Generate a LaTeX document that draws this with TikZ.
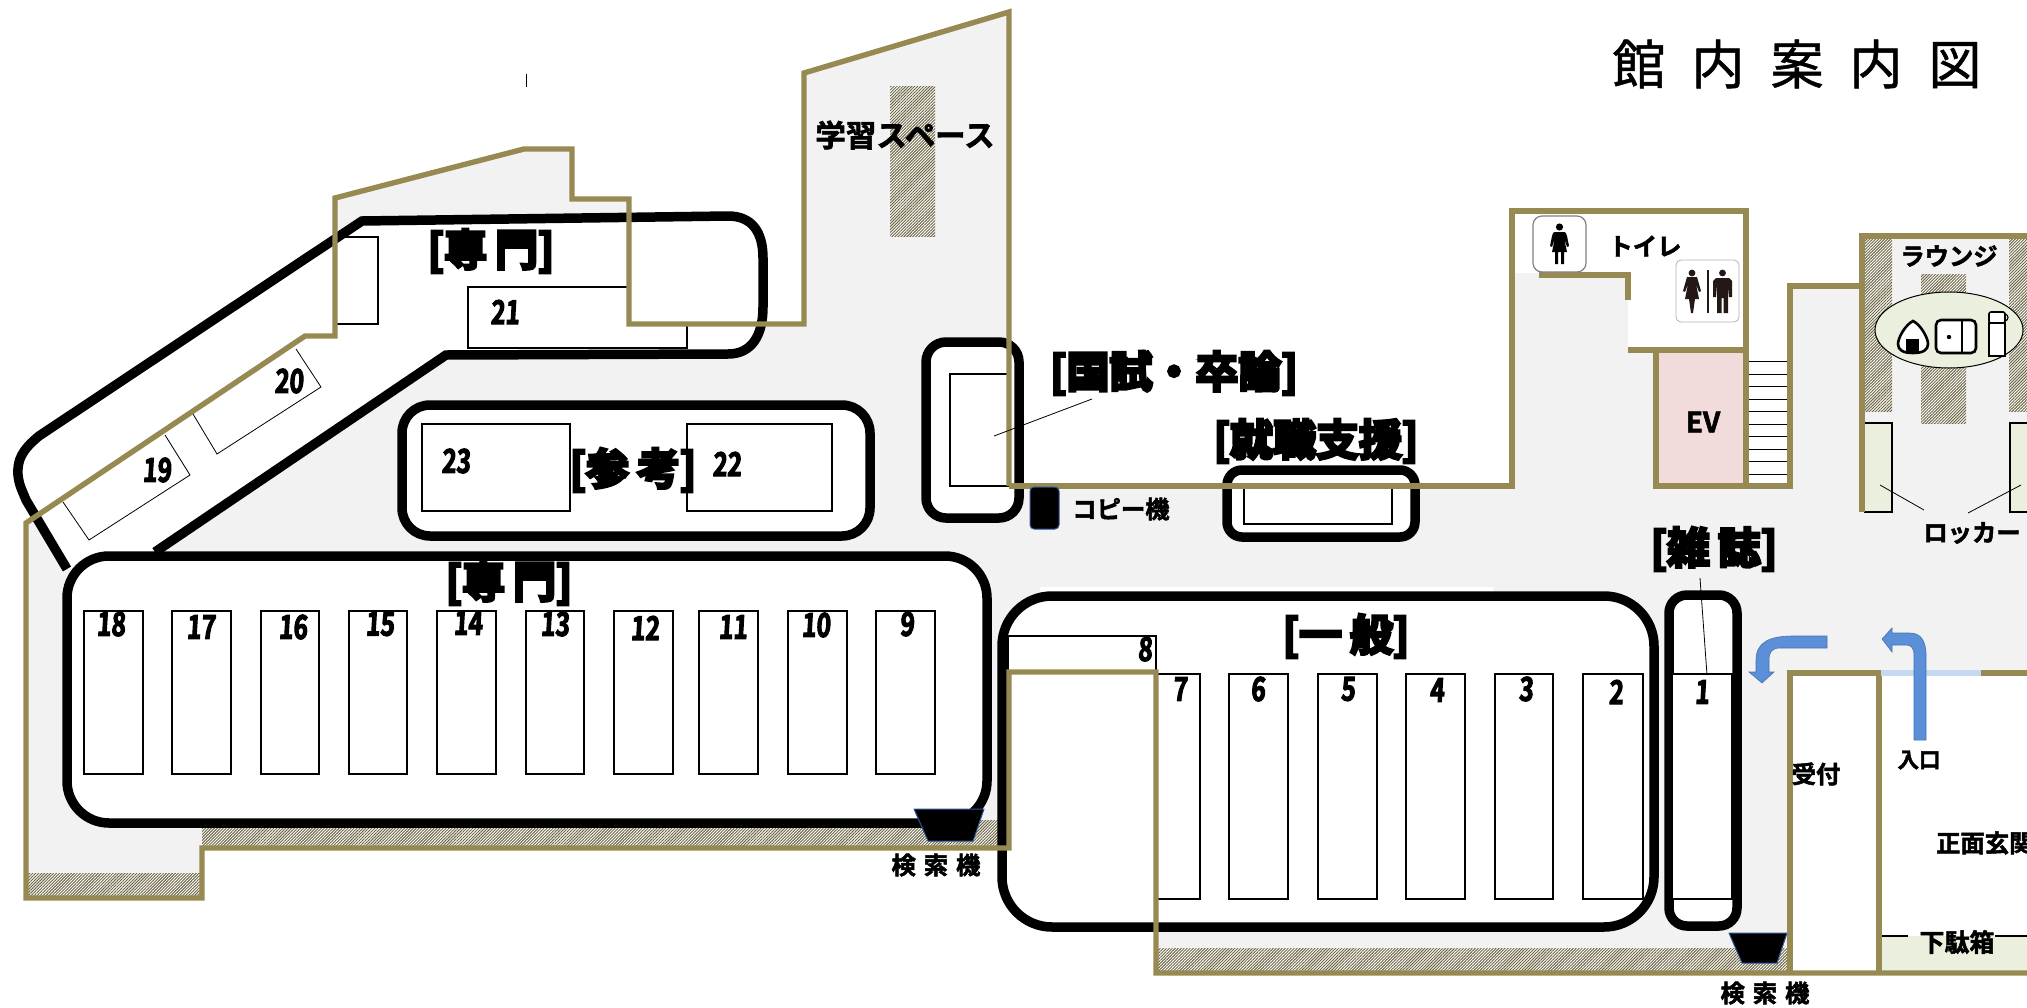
\documentclass[tikz,border=0pt]{standalone}
\usepackage{fontspec}
\usetikzlibrary{patterns.meta}
\newfontfamily\jpreg[FakeBold=0.9]{Noto Sans CJK JP}
\newfontfamily\jpbold[UprightFont={* Bold},FakeBold=2]{Noto Sans CJK JP}
\newfontfamily\jpheavy[UprightFont={* Bold},FakeBold=6.5]{Noto Sans CJK JP}
\newfontfamily\numfont[UprightFont={* Bold},FakeBold=3.2,FakeSlant=0.06,FakeStretch=0.74]{Noto Sans CJK JP}
\definecolor{wallc}{HTML}{968A52}
\definecolor{floorc}{HTML}{F2F2F2}
\definecolor{palegreen}{HTML}{EBEFDE}
\definecolor{evpink}{HTML}{F2DCDB}
\definecolor{arrowblue}{HTML}{5B8FD8}
\definecolor{doorblue}{HTML}{C6D9F1}
\definecolor{machblue}{HTML}{2F5597}
\definecolor{figc}{HTML}{231815}
\tikzset{
  wall/.style={draw=wallc,line width=5.4pt,line join=miter},
  band/.style={draw=black,fill=white,line width=9.5pt},
  shelf/.style={draw=black,fill=white,line width=1.8pt},
  shelfopen/.style={draw=black,line width=1.8pt},
  thinline/.style={draw=black,line width=0.8pt},
  hatchbox/.style={fill=white,postaction={pattern={Lines[angle=45,distance=2.1pt,line width=0.95pt]},pattern color=black!30!wallc!85!gray}},
  heavy/.style={font=\fontsize{43}{43}\jpheavy,inner sep=0pt},
  lab/.style={font=\fontsize{24.3}{24.3}\jpbold,inner sep=0pt},
  numlab/.style={font=\fontsize{33}{33}\numfont,inner sep=0pt},
  mach/.style={fill=black,draw=machblue,line width=1pt,line join=round},
  bluearrow/.style={fill=arrowblue,draw=arrowblue!80!black,line width=0.6pt},
}
\begin{document}
\begin{tikzpicture}[x=1pt,y=-1pt]
\clip (0,0) rectangle (2027,1007);
% floor
\fill[floorc] (335,198)--(524,149)--(572,149)--(572,199)--(629,199)--(629,324)--(804,324)--(804,73)--(1009,12)--(1009,486)--(1512,486)--(1512,273)--(1628,273)--(1628,350)--(1656,350)--(1656,486)--(1790,486)--(1790,286)--(1862,286)--(1862,236)--(2027,236)--(2027,673)--(1790,673)--(1790,973)--(1156,973)--(1156,672)--(1009,672)--(1009,848)--(202,848)--(202,898)--(26,898)--(26,523)--(305,336)--(335,336)--cycle;
% hatching
\path[hatchbox] (890,86) rectangle (935,236);
\path[hatchbox] (27,873) rectangle (200,896);
\path[hatchbox] (202,820) rectangle (1006,846);
\path[hatchbox] (1158,948) rectangle (1789,971);
\path[hatchbox] (1865,239) rectangle (1892,411);
\path[hatchbox] (1921,274) rectangle (1966,423);
\path[hatchbox] (2009,239) rectangle (2027,411);
% EV and stairs
\fill[evpink] (1656,350) rectangle (1745,486);
\fill[white] (1746,350) rectangle (1790,486);
\foreach \yy in {361,374,386,399,411,424,436,449,461,474}
  \draw[black,line width=0.9pt] (1747,\yy) -- (1788,\yy);
% white strip and bands
\fill[white] (1040,587) rectangle (1493,596);
\fill[white] (155,552)--(446,355)--(728,354) .. controls (752,354) and (763,335) .. (763,307) -- (763,258) .. controls (763,232) and (752,216) .. (728,216) -- (362,221) -- (39,436) .. controls (22,450) and (17,460) .. (18,475) .. controls (19,485) and (22,490) .. (26,500) -- (67,569) --cycle;
\draw[band,fill=none,line join=miter] (155,552)--(446,355)--(728,354) .. controls (752,354) and (763,335) .. (763,307) -- (763,258) .. controls (763,232) and (752,216) .. (728,216) -- (362,221) -- (39,436) .. controls (22,450) and (17,460) .. (18,475) .. controls (19,485) and (22,490) .. (26,500) -- (67,569);
\draw[band,rounded corners=42pt] (67,556) rectangle (987,823);
\draw[band,rounded corners=50pt] (1002,596) rectangle (1654,927);
\draw[band,rounded corners=18pt] (1669,595) rectangle (1737,926);
\draw[band,rounded corners=28pt] (402,405) rectangle (870,536);
\draw[band,rounded corners=20pt] (926,342) rectangle (1019,518);
\draw[band,rounded corners=15pt] (1227,470) rectangle (1415,537);
% shelves
\foreach \xa/\xb in {84/143,172/231,261/319,349/407,437/496,526/584,614/673,699/758,788/847,876/935}
  \draw[shelf] (\xa,611) rectangle (\xb,774);
\foreach \xa/\xb in {1156/1200,1229/1288,1318/1377,1406/1465,1495/1553,1583/1643,1672/1732}
  \draw[shelf] (\xa,674) rectangle (\xb,899);
\draw[shelf] (1008,636) rectangle (1156,673);
\draw[shelf] (422,424) rectangle (570,511);
\draw[shelf] (687,424) rectangle (832,511);
\draw[shelfopen] (629,287)--(468,287)--(468,348)--(687,348)--(687,324);
\draw[shelfopen] (336,237)--(378,237)--(378,324)--(336,324);
\draw[shelfopen] (1009,374)--(950,374)--(950,486)--(1009,486);
\draw[shelfopen] (1244,486)--(1244,524)--(1392,524)--(1392,486);
\draw[thinline] (296,349)--(321,387)--(217,454)--(193,414);
\draw[thinline] (165,435)--(190,475)--(89,540)--(63,502);
% lockers
\draw[black,line width=2.4pt,fill=palegreen] (1864,423)--(1892,423)--(1892,512)--(1864,512);
\draw[black,line width=2.4pt,fill=palegreen] (2029,423)--(2010,423)--(2010,512)--(2029,512);
\draw[thinline] (1880,485)--(1924,510);
\draw[thinline] (2021,485)--(1968,513);
% lower-right green area
\fill[palegreen] (1881,936) rectangle (2027,971);
\draw[black,line width=1.6pt] (1881,936)--(1908,936);
\draw[black,line width=1.6pt] (1995,936)--(2027,936);
% walls
\draw[wall] (1009,486)--(1009,12)--(804,73)--(804,324)--(629,324)--(629,199)--(572,199)--(572,149)--(524,149)--(335,198)--(335,336)--(305,336)--(26,523)--(26,898)--(202,898)--(202,848)--(1009,848)--(1009,672)--(1156,672)--(1156,973)--(2030,973);
\draw[wall] (1009,486)--(1512,486)--(1512,211)--(1746,211)--(1746,486);
\draw[wall] (1539,275)--(1628,275)--(1628,300);
\draw[wall] (1628,350)--(1746,350);
\draw[wall] (1656,350)--(1656,486)--(1790,486)--(1790,286)--(1862,286)--(1862,236)--(2030,236);
\draw[wall] (1862,236)--(1862,512);
\draw[wall] (1790,973)--(1790,673)--(1879,673)--(1879,973);
\draw[doorblue,line width=5.4pt] (1881,673)--(1981,673);
\draw[wall] (1981,673)--(2030,673);
% leaders and tick
\draw[thinline] (526,74)--(526,87);
\draw[thinline] (994,436)--(1092,399);
\draw[thinline] (1700,578)--(1707,675);
% copier, search machines
\draw[mach,rounded corners=4pt] (1030,487) rectangle (1059,529);
\draw[mach] (914,809)--(984,809)--(973,841)--(928,841)--cycle;
\draw[mach] (1729,933)--(1787,933)--(1777,963)--(1742,963)--cycle;
% arrows
\draw[bluearrow] (1827,636)--(1793,636) .. controls (1770,636) and (1756,642) .. (1756,660) -- (1756,672)--(1749,672)--(1762,683)--(1774,672)--(1769,672)--(1769,660) .. controls (1769,652) and (1772,648) .. (1780,648) -- (1827,648)--cycle;
\draw[bluearrow] (1914,740)--(1926,740)--(1926,655) .. controls (1926,640) and (1920,633) .. (1910,633) -- (1892,633)--(1892,628)--(1882,639)--(1892,652)--(1892,645)--(1905,645) .. controls (1912,645) and (1914,648) .. (1914,656) --cycle;
% toilet signs
\draw[gray,fill=white,line width=1.2pt,rounded corners=9pt] (1533,216) rectangle (1586,272);
\fill[black] (1559.5,227) circle (3.6pt);
\fill[black] (1555,232) -- (1564,232) .. controls (1566,232) and (1566,233) .. (1567,236) -- (1569,246) -- (1567,247) -- (1564,238) -- (1567,252) -- (1564,252) -- (1564,264) -- (1561,264) -- (1561,252) -- (1558,252) -- (1558,264) -- (1555,264) -- (1555,252) -- (1552,252) -- (1555,238) -- (1552,247) -- (1550,246) -- (1552,236) .. controls (1553,233) and (1553,232) .. (1555,232) --cycle;
\draw[gray!60,fill=white,line width=0.8pt,rounded corners=5pt] (1676,260) rectangle (1739,322);
\fill[figc] (1692,273) circle (3.4pt);
\fill[figc] (1687,277)--(1697,277)--(1701,291)--(1699,292)--(1696,284)--(1699,299)--(1695,299)--(1693,313)--(1691,313)--(1689,299)--(1685,299)--(1688,284)--(1685,292)--(1683,291)--cycle;
\fill[figc] (1707,270) rectangle (1709.4,313);
\fill[figc] (1722.5,273) circle (3.4pt);
\fill[figc] (1716,278)--(1729,278)--(1732,281)--(1732,297)--(1729,297)--(1728,284)--(1728,313)--(1723.5,313)--(1723.5,298)--(1721.5,298)--(1721.5,313)--(1717,313)--(1717,284)--(1716,297)--(1713,297)--(1713,281)--cycle;
% lounge oval
\draw[black,line width=1pt,fill=palegreen] (1949,330) ellipse (74pt and 38pt);
\draw[black,line width=2.6pt,fill=white] (1913,321) .. controls (1921,325) and (1928,338) .. (1928,344) .. controls (1928,350) and (1923,353) .. (1913,353) .. controls (1903,353) and (1898,350) .. (1898,344) .. controls (1898,338) and (1905,325) .. (1913,321) --cycle;
\fill[black] (1906,339) rectangle (1919,353);
\draw[black,line width=2.6pt,fill=white,rounded corners=5pt] (1936,320) rectangle (1976,353);
\draw[black,line width=1.6pt] (1962,320)--(1962,353);
\fill[black] (1949,337) circle (2.2pt);
\draw[black,line width=2.6pt,fill=white] (1989,323) rectangle (2005,356);
\draw[black,line width=1.6pt,fill=white,rounded corners=2pt] (1989,312) rectangle (2005,323);
\draw[black,line width=1.2pt] (2005,314) .. controls (2009,315) and (2009,320) .. (2005,321);
% title
\node[font=\fontsize{53}{53}\jpreg,inner sep=0pt] (title) at (1797,64) {館\hspace{26pt}内\hspace{26pt}案\hspace{26pt}内\hspace{26pt}図};
% heavy category labels
\node[heavy] (tupper) at (491,251) {[専\hspace{8pt}門]};
\node[heavy] (tlower) at (509,583) {[専\hspace{8pt}門]};
\node[heavy] (tsanko) at (633,470) {[参\hspace{8pt}考]};
\node[heavy] (tkoku) at (1174,373) {[国試・卒論]};
\node[heavy] (tshu) at (1316,441) {[就職支援]};
\node[heavy] (tzas) at (1714,549) {[雑\hspace{8pt}誌]};
\node[heavy] (tippan) at (1346,636) {[一\hspace{8pt}般]};
% labels
\node[lab,font=\fontsize{30.5}{30.5}\jpbold] (tstudy) at (905,135) {学習スペース};
\node[lab] (tcopy) at (1121,509) {コピー機};
\node[lab] (ts1) at (936,865) {検\hspace{8pt}索\hspace{8pt}機};
\node[lab] (ts2) at (1765,993) {検\hspace{8pt}索\hspace{8pt}機};
\node[lab] (ttoilet) at (1645,246) {トイレ};
\node[lab] (tlounge) at (1949,256) {ラウンジ};
\node[lab,font=\fontsize{28}{28}\jpbold] (tev) at (1703,422) {EV};
\node[lab] (tlocker) at (1972,533) {ロッカー};
\node[lab] (tuke) at (1816,774) {受付};
\node[lab,font=\fontsize{21.5}{21.5}\jpbold] (tiri) at (1919,760) {入口};
\node[lab,anchor=west] (tgen) at (1936,843) {正面玄関};
\node[lab,font=\fontsize{25}{25}\jpbold] (tgeta) at (1957,942) {下駄箱};
% shelf numbers
\foreach \t/\xx/\yy in {18/111/624,17/201/627,16/293/627,15/380/624,14/468/623,13/555/624,12/645/628,11/733/627,10/816/625,9/907/624,7/1180/689,6/1258/689,5/1348/689,4/1437/690,3/1526/689,2/1616/692,1/1702/692,8/1145/649,21/505/312,20/289/381,19/157/470,23/456/461,22/727/464}
  \node[numlab,name=n\t] at (\xx,\yy) {\t};
\end{tikzpicture}
\end{document}
